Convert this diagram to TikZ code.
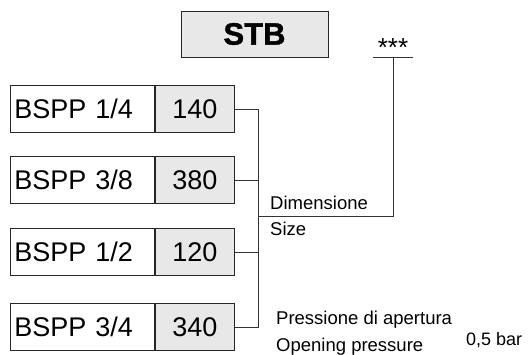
\documentclass[tikz,border=0pt]{standalone}
\usepackage{fontspec}
\setmainfont{Liberation Sans}
\usepackage{tikz}
\usetikzlibrary{positioning}

\begin{document}
\begin{tikzpicture}[
  x=1pt,y=-1pt,
  thread/.style={draw=black!85,line width=0.9pt,fill=white,anchor=north west,minimum width=144pt,minimum height=47pt,text width=136pt,align=left,inner sep=4pt,font=\fontsize{27}{29}\selectfont},
  press/.style={draw=black!85,line width=0.9pt,fill=black!9,minimum width=79pt,minimum height=47pt,inner sep=0pt,font=\fontsize{27}{29}\selectfont},
  wire/.style={draw=black!80,line width=0.8pt},
  lbl/.style={inner sep=0pt,anchor=base west,font=\fontsize{18.5}{20}\selectfont}
]
\useasboundingbox (0,0) rectangle (528,354);

\node[press,minimum width=147pt,minimum height=46pt,font=\fontsize{31}{33}\selectfont\bfseries\addfontfeatures{FakeBold=1.2}] (stb) at (254.5,34) {STB};
\node[inner xsep=0pt,inner ysep=0pt,minimum width=40pt,anchor=south,font=\fontsize{26}{28}\selectfont] (stars) at (393,57) {***};

\node[thread] (t1) at (10,85) {BSPP 1/4};
\node[press, right=0pt of t1] (p1) {140};
\node[thread] (t2) at (10,156) {BSPP 3/8};
\node[press, right=0pt of t2] (p2) {380};
\node[thread] (t3) at (10,228) {BSPP 1/2};
\node[press, right=0pt of t3] (p3) {120};
\node[thread] (t4) at (10,303) {BSPP 3/4};
\node[press, right=0pt of t4] (p4) {340};

\coordinate (bus) at (258,216);
\node[lbl] (dim) at (270,209) {Dimensione};
\node[lbl] (size) at (270,235) {Size};
\node[lbl] (pa) at (276,324) {Pressione di apertura};
\node[lbl] (op) at (276,351) {Opening pressure};
\node[lbl,font=\fontsize{18}{20}\selectfont] (bar) at (466,345) {0,5 bar};

\draw[wire] (p1.east) -- (p1.east -| bus) -- (p4.east -| bus) -- (p4.east);
\draw[wire] (p2.east) -- (p2.east -| bus);
\draw[wire] (p3.east) -- (p3.east -| bus);
\draw[wire] (stars.south west) -- (stars.south east);
\draw[wire] (stars.south) |- (bus);
\end{tikzpicture}
\end{document}
